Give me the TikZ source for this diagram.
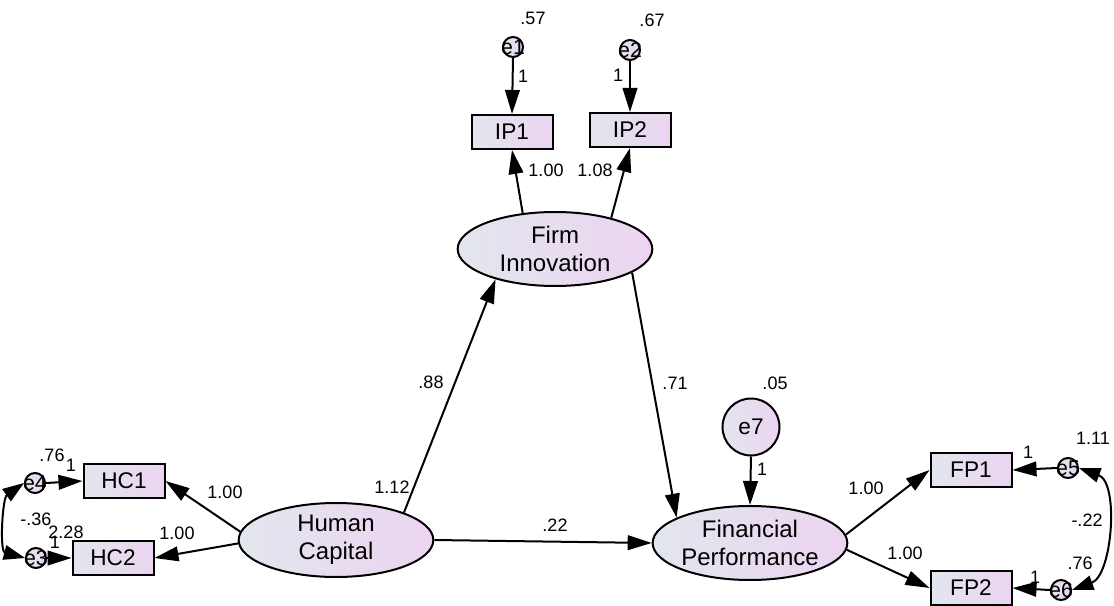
\documentclass[tikz,border=0pt]{standalone}
\usepackage{fontspec}
\setmainfont{Liberation Sans}
\usetikzlibrary{shapes.geometric,arrows.meta}
\definecolor{gl}{RGB}{226,230,237}
\definecolor{gr}{RGB}{236,212,241}
\begin{document}
\begin{tikzpicture}[x=0.75pt,y=-0.75pt,
  grad/.style={left color=gl,right color=gr,draw=black,line width=1.5pt},
  obs/.style={grad,rectangle,minimum width=60.75pt,minimum height=25.5pt,inner sep=0pt,font=\fontsize{17}{19}\selectfont},
  lat/.style={grad,ellipse,minimum width=146pt,minimum height=55.5pt,inner sep=0pt,align=center,font=\fontsize{18}{21}\selectfont},
  err/.style={grad,circle,minimum size=15pt,inner sep=0pt},
  errtxt/.style={inner sep=0pt,font=\fontsize{16}{16}\selectfont},
  lbl/.style={font=\fontsize{13.5}{13.5}\selectfont,inner sep=0pt},
  arr/.style={line width=1.5pt,-{Triangle[length=18pt,width=11pt]}},
  cov/.style={line width=1.5pt,{Triangle[length=16pt,width=11pt]}-{Triangle[length=16pt,width=11pt]}}
]
\useasboundingbox (0,0) rectangle (1114,606);

% latent variables
\node[lat] (fi) at (555,249) {Firm\\Innovation};
\node[lat] (hc) at (336,540) {Human\\Capital};
\node[lat] (fp) at (750,543) {Financial\\Performance};

% observed variables
\node[obs] (ip1) at (512,132) {IP1};
\node[obs] (ip2) at (630,130) {IP2};
\node[obs] (hc1) at (124,481) {HC1};
\node[obs] (hc2) at (113,558) {HC2};
\node[obs] (fp1) at (971,470) {FP1};
\node[obs] (fp2) at (971,588) {FP2};

% error terms
\node[err] (e1) at (513,47) {};
\node[err] (e2) at (630,50) {};
\node[err] (e4) at (35,483) {};
\node[err] (e3) at (36,558) {};
\node[err] (e5) at (1068,468) {};
\node[err] (e6) at (1061,590) {};
\node[grad,circle,minimum size=42.75pt,inner sep=0pt,font=\fontsize{17}{19}\selectfont] (e7) at (751,427) {e7};

% structural paths
\draw[arr] (hc.22) -- (fi.207);
\draw[arr] (fi.343) -- (fp.161);
\draw[arr] (hc.east) -- (fp.west);
\draw[arr] (e7.south) -- (fp.north);

% measurement paths
\draw[arr] (fi.132) -- (ip1.south);
\draw[arr] (fi.29) -- (ip2.south);
\draw[arr] (hc.175) -- (hc1.east);
\draw[arr] (hc.182) -- (hc2.east);
\draw[arr] (fp.5) -- (fp1.west);
\draw[arr] (fp.-4) -- (fp2.west);

% error paths
\draw[arr] (e1.south) -- (ip1.north);
\draw[arr] (e2.south) -- (ip2.north);
\draw[arr] (e4.east) -- (hc1.west);
\draw[arr] (e3.east) -- (hc2.west);
\draw[arr] (e5.west) -- (fp1.east);
\draw[arr] (e6.west) -- (fp2.east);

% covariances
\draw[cov] (e4.west) to[out=215,in=165,looseness=0.9] (e3.west);
\draw[cov] (e5.east) to[out=-20,in=20,looseness=0.9] (e6.east);

% error labels
\node[errtxt] at (e1) {e1};
\node[errtxt] at (e2) {e2};
\node[errtxt] at (e4) {e4};
\node[errtxt] at (e3) {e3};
\node[errtxt] at (e5) {e5};
\node[errtxt] at (e6) {e6};

% estimates
\node[lbl] (l1) at (533,18) {.57};
\node[lbl] (l2) at (652,20) {.67};
\node[lbl] (l3) at (523,76) {1};
\node[lbl] (l4) at (618,75) {1};
\node[lbl] (l5) at (546,170) {1.00};
\node[lbl] (l6) at (595,170) {1.08};
\node[lbl] (l7) at (431,382) {.88};
\node[lbl] (l8) at (392,487) {1.12};
\node[lbl] (l9) at (675,383) {.71};
\node[lbl] (l10) at (775,383) {.05};
\node[lbl] (l11) at (762,469) {1};
\node[lbl] (l12) at (555,525) {.22};
\node[lbl] (l13) at (225,492) {1.00};
\node[lbl] (l14) at (177,533) {1.00};
\node[lbl] (l15) at (52,455) {.76};
\node[lbl] (l16) at (71,465) {1};
\node[lbl] (l17) at (36,519) {-.36};
\node[lbl] (l18) at (66,532) {2.28};
\node[lbl] (l19) at (55,542) {1};
\node[lbl] (l20) at (866,488) {1.00};
\node[lbl] (l21) at (905,553) {1.00};
\node[lbl] (l22) at (1028,452) {1};
\node[lbl] (l23) at (1035,577) {1};
\node[lbl] (l24) at (1093,438) {1.11};
\node[lbl] (l25) at (1087,520) {-.22};
\node[lbl] (l26) at (1080,563) {.76};
\end{tikzpicture}
\end{document}
